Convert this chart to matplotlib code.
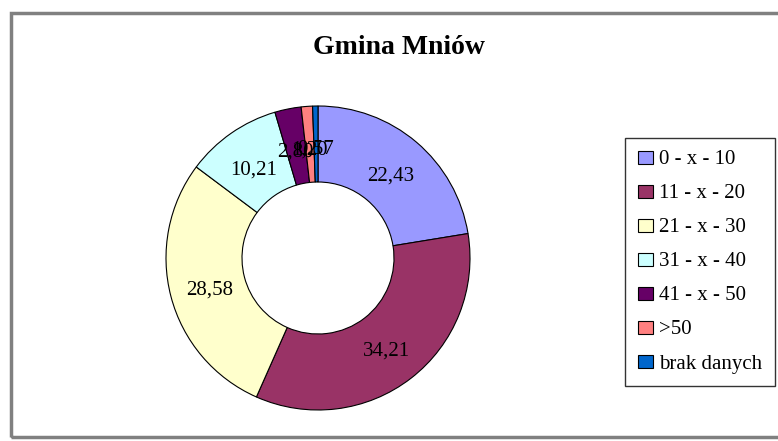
import matplotlib.pyplot as plt
import numpy as np
from matplotlib.patches import Rectangle

# ! Gmina Mniow - ring chart
categories = ["0 - x - 10", "11 - x - 20", "21 - x - 30", "31 - x - 40",
              "41 - x - 50", ">50", "brak danych"]
values = [22.43, 34.21, 28.58, 10.21, 2.80, 1.20, 0.57]
colors = ["#9999FF", "#993366", "#FFFFCC", "#CCFFFF", "#660066", "#FF8080", "#0066CC"]

plt.rcParams["font.family"] = ["Liberation Serif", "DejaVu Serif"]

fig = plt.figure(figsize=(7.78, 4.41), dpi=100)
ax = fig.add_axes([0, 0, 1, 1])

# pixel-like data coords, y up
cx, cy, r = 318, 441 - 258, 152
wedges, _ = ax.pie(values, colors=colors, startangle=90, counterclock=False,
                   center=(cx, cy), radius=r,
                   wedgeprops=dict(width=r * 0.5, edgecolor="black", linewidth=0.8))
ax.set_xlim(0, 778)
ax.set_ylim(0, 441)
ax.set_aspect("equal")
ax.axis("off")

for w, v in zip(wedges, values):
    ang = np.deg2rad((w.theta1 + w.theta2) / 2)
    x = cx + 0.74 * r * np.cos(ang)
    y = cy + 0.74 * r * np.sin(ang) - 4
    ax.text(x, y, f"{v:.2f}".replace(".", ","), ha="center", va="center",
            fontsize=15, color="black")

ax.text(399, 441 - 48, "Gmina Mniów", ha="center", va="center",
        fontsize=20, fontweight="bold")

# outer frame
fig.patches.append(Rectangle((11 / 778, 4 / 441), 800 / 778, 424 / 441,
                             transform=fig.transFigure, fill=False,
                             edgecolor="#808080", linewidth=2.5))

leg = fig.legend(wedges, categories, loc="upper left",
                 bbox_to_anchor=(625 / 778, 1 - 138 / 441),
                 fontsize=15, frameon=True, fancybox=False, borderaxespad=0,
                 handlelength=0.75, handleheight=0.6, handletextpad=0.3,
                 labelspacing=0.72, borderpad=0.6)
leg.get_frame().set_edgecolor("black")
leg.get_frame().set_linewidth(1.0)
for h in leg.legend_handles:
    h.set_edgecolor("black")
    h.set_linewidth(0.8)

fig.savefig("out.png", dpi=100)
